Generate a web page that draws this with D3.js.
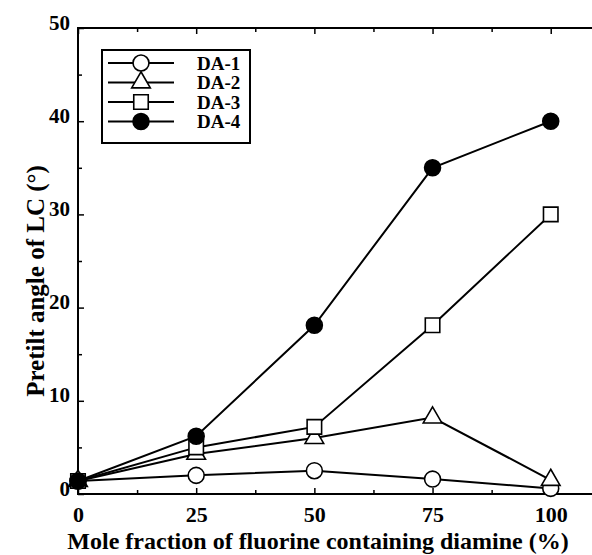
<!DOCTYPE html>
<html>
<head>
<meta charset="utf-8">
<script src="https://cdn.jsdelivr.net/npm/d3@7"></script>
<style>
  body { margin: 0; background: #fff; }
  svg { display: block; }
  svg text { font-family: "Liberation Serif", "Times New Roman", serif; font-weight: bold; }
</style>
</head>
<body>
<div id="chart"></div>
<script>
// Data
const fractions = [0, 25, 50, 75, 100];
const da1 = [1.4, 2.0, 2.5, 1.6, 0.6];
const da2 = [1.4, 4.3, 6.0, 8.2, 1.5];
const da3 = [1.4, 5.0, 7.2, 18.1, 30.0];
const da4 = [1.4, 6.2, 18.1, 35.0, 40.0];
const seriesNames = ["DA-1", "DA-2", "DA-3", "DA-4"];
const xTicks = [0, 25, 50, 75, 100];
const yTicks = [0, 10, 20, 30, 40, 50];

const series = [
    { name: seriesNames[0], values: da1, symbol: "circle", fill: "#fff" },
    { name: seriesNames[1], values: da2, symbol: "triangle", fill: "#fff" },
    { name: seriesNames[2], values: da3, symbol: "square", fill: "#fff" },
    { name: seriesNames[3], values: da4, symbol: "circle", fill: "#000" }
];

const width = 592, height = 555;
const margin = { top: 28, right: -6, bottom: 61, left: 78 };
const innerWidth = width - margin.left - margin.right;
const innerHeight = height - margin.top - margin.bottom;

const svg = d3.select("#chart").append("svg")
    .attr("width", width)
    .attr("height", height);

const g = svg.append("g").attr("transform", `translate(${margin.left},${margin.top})`);

const x = d3.scaleLinear().domain([0, 110]).range([0, innerWidth]);
const y = d3.scaleLinear().domain([0, 50]).range([innerHeight, 0]);

// Minor tick positions
const xMinor = d3.range(12.5, 110, 25);
const yMinor = d3.range(5, 50, 10);

function styleAxis(sel, size) {
    sel.attr("font-family", null).attr("font-size", null);
    sel.select(".domain").remove();
    sel.selectAll("line").attr("stroke", "#000").attr("stroke-width", 1.5);
    sel.selectAll("text").filter(function () { return this.textContent === ""; }).remove();
    sel.selectAll("text").attr("fill", "#000").style("font-size", (size || 20) + "px");
}

// Bottom axis (inward ticks)
g.append("g").attr("transform", `translate(0,${innerHeight})`)
    .call(d3.axisBottom(x).tickValues(xTicks).tickSizeInner(-6).tickSizeOuter(0).tickPadding(12))
    .call(styleAxis, 22);
g.append("g").attr("transform", `translate(0,${innerHeight})`)
    .call(d3.axisBottom(x).tickValues(xMinor).tickSizeInner(-4).tickSizeOuter(0).tickFormat(""))
    .call(styleAxis);

// Top axis
g.append("g")
    .call(d3.axisTop(x).tickValues(xTicks).tickSizeInner(-6).tickSizeOuter(0).tickFormat(""))
    .call(styleAxis);
g.append("g")
    .call(d3.axisTop(x).tickValues(xMinor).tickSizeInner(-4).tickSizeOuter(0).tickFormat(""))
    .call(styleAxis);

// Left axis
g.append("g")
    .call(d3.axisLeft(y).tickValues(yTicks).tickSizeInner(-6).tickSizeOuter(0).tickPadding(8))
    .call(styleAxis, 21)
    .selectAll("text").attr("dy", "0.05em");
g.append("g")
    .call(d3.axisLeft(y).tickValues(yMinor).tickSizeInner(-4).tickSizeOuter(0).tickFormat(""))
    .call(styleAxis);

// Right axis
g.append("g").attr("transform", `translate(${innerWidth},0)`)
    .call(d3.axisRight(y).tickValues(yTicks).tickSizeInner(-6).tickSizeOuter(0).tickFormat(""))
    .call(styleAxis);
g.append("g").attr("transform", `translate(${innerWidth},0)`)
    .call(d3.axisRight(y).tickValues(yMinor).tickSizeInner(-4).tickSizeOuter(0).tickFormat(""))
    .call(styleAxis);

// Frame
g.append("rect")
    .attr("width", innerWidth)
    .attr("height", innerHeight)
    .attr("fill", "none")
    .attr("stroke", "#000")
    .attr("stroke-width", 2);

// Lines
const line = d3.line()
    .x((d, i) => x(fractions[i]))
    .y(d => y(d));

series.forEach(s => {
    g.append("path")
        .datum(s.values)
        .attr("fill", "none")
        .attr("stroke", "#000")
        .attr("stroke-width", 2)
        .attr("d", line);
});

function symbolPath(type) {
    if (type === "triangle") return d3.symbol(d3.symbolTriangle, 150)();
    if (type === "square") return d3.symbol(d3.symbolSquare, 210)();
    return d3.symbol(d3.symbolCircle, 200)();
}

series.forEach(s => {
    g.selectAll(null)
        .data(s.values)
        .enter()
        .append("path")
        .attr("transform", (d, i) => `translate(${x(fractions[i])},${y(d)})`)
        .attr("d", symbolPath(s.symbol))
        .attr("fill", s.fill)
        .attr("stroke", "#000")
        .attr("stroke-width", 1.6);
});

// Legend
const legend = g.append("g").attr("transform", "translate(24,22)");
legend.append("rect")
    .attr("width", 148)
    .attr("height", 93)
    .attr("fill", "#fff")
    .attr("stroke", "#000")
    .attr("stroke-width", 2);

series.forEach((s, i) => {
    const ly = 13 + i * 19.5;
    legend.append("line")
        .attr("x1", 6).attr("x2", 72)
        .attr("y1", ly).attr("y2", ly)
        .attr("stroke", "#000").attr("stroke-width", 2);
    legend.append("path")
        .attr("transform", `translate(39,${ly})`)
        .attr("d", symbolPath(s.symbol))
        .attr("fill", s.fill)
        .attr("stroke", "#000")
        .attr("stroke-width", 1.6);
    legend.append("text")
        .attr("x", 95)
        .attr("y", ly)
        .attr("dy", "0.35em")
        .style("font-size", "19px")
        .text(s.name);
});

// Axis titles
svg.append("text")
    .attr("x", 318)
    .attr("y", 549)
    .attr("text-anchor", "middle")
    .style("font-size", "24px")
    .text("Mole fraction of fluorine containing diamine (%)");

svg.append("text")
    .attr("transform", "translate(44,281)rotate(-90)")
    .attr("text-anchor", "middle")
    .style("font-size", "25px")
    .text("Pretilt angle of LC (°)");
</script>
</body>
</html>
